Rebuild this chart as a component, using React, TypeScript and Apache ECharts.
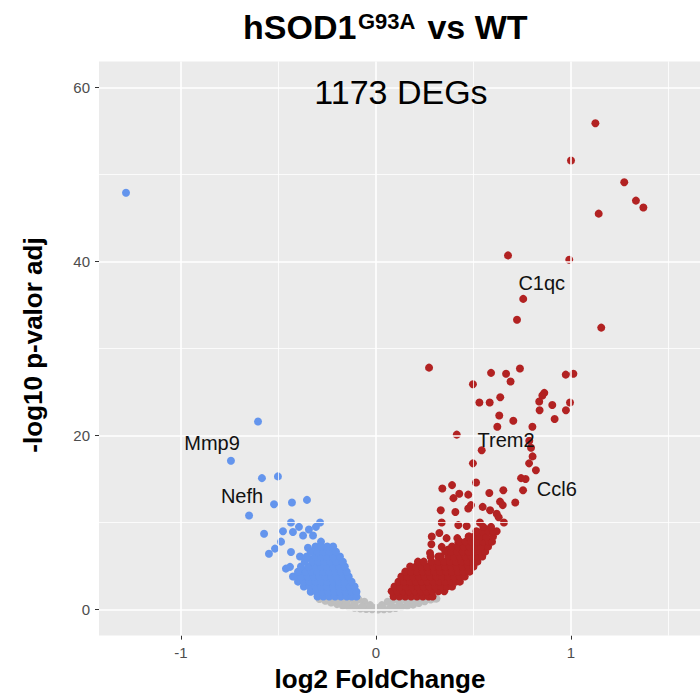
import React, { useEffect, useRef } from "react";
import * as echarts from "echarts";

const FONT = '"Liberation Sans", Arial, Helvetica, sans-serif';

// axis ranges and ticks
const X_MIN = -1.4205;
const X_MAX = 1.6615;
const Y_MIN = -3;
const Y_MAX = 63;
const X_TICKS = [-1, 0, 1];
const X_MINOR = [-0.5, 0.5, 1.5];
const Y_TICKS = [0, 20, 40, 60];
const Y_MINOR = [10, 30, 50];

// texts
const TITLE_MAIN = "hSOD1";
const TITLE_SUP = "G93A";
const TITLE_REST = " vs WT";
const X_TITLE = "log2 FoldChange";
const Y_TITLE = "-log10 p-valor adj";
const DEG_TEXT = "1173 DEGs";
const DEG_POS = [0.128, 59.5];

// gene labels [log2FC, -log10 padj]
const GENE_NAMES = ["C1qc", "Trem2", "Ccl6", "Mmp9", "Nefh"];
const GENE_LABEL_POS = [
  [0.85, 37.5],
  [0.667, 19.5],
  [0.927, 13.8],
  [-0.841, 19.1],
  [-0.687, 13.0],
];

// not significant (grey)
const GRAY_POINTS = [
  [-0.29, 1.2], [-0.26, 1.0], [-0.23, 0.8], [-0.2, 0.62], [-0.17, 0.46], [-0.14, 0.32],
  [-0.11, 0.2], [-0.08, 0.11], [-0.05, 0.05], [-0.02, 0.02], [0.01, 0.01], [0.04, 0.03],
  [0.07, 0.09], [0.1, 0.17], [0.13, 0.28], [0.16, 0.4], [0.19, 0.56], [0.22, 0.75],
  [0.25, 0.95], [0.28, 1.15], [0.31, 1.25],
  [-0.27, 1.28], [-0.24, 1.25], [-0.21, 1.27], [-0.18, 1.22], [-0.15, 1.2], [-0.12, 1.18],
  [-0.09, 1.15], [-0.06, 0.9], [-0.03, 0.5], [0.0, 0.2], [0.03, 0.5], [0.06, 0.9],
  [0.09, 1.15], [0.12, 1.18], [0.15, 1.2], [0.18, 1.25], [0.21, 1.27], [0.24, 1.24],
  [0.27, 1.28], [0.3, 1.28],
  [-0.19, 0.95], [-0.15, 0.78], [-0.11, 0.6], [-0.07, 0.35], [0.08, 0.4], [0.12, 0.65],
  [0.16, 0.82], [0.2, 0.98],
];

// down-regulated (blue), scattered points
const BLUE_POINTS = [
  [-1.282, 47.9], [-0.605, 21.6], [-0.744, 17.1], [-0.585, 15.1], [-0.503, 15.3],
  [-0.651, 10.8], [-0.523, 12.1], [-0.431, 12.3], [-0.354, 12.6], [-0.436, 10.0],
  [-0.395, 9.5], [-0.344, 9.2], [-0.308, 9.5], [-0.287, 10.0], [-0.574, 8.7],
  [-0.477, 9.0], [-0.426, 8.9], [-0.374, 8.5], [-0.323, 8.5], [-0.487, 7.8],
  [-0.518, 7.0], [-0.549, 6.4], [-0.436, 6.6], [-0.39, 6.1], [-0.349, 7.1],
  [-0.282, 7.8], [-0.231, 7.1], [-0.19, 6.0], [-0.462, 4.7], [-0.441, 4.9],
  [-0.426, 3.8], [-0.379, 4.6], [-0.333, 5.8], [-0.251, 5.9], [-0.174, 4.8],
  [-0.159, 3.8],
];

// down-regulated (blue), dense cloud read row by row
const BLUE_MASS_ROWS = [
  { y: 1.5, x: [-0.3, -0.27, -0.24, -0.21, -0.18, -0.15, -0.125, -0.1] },
  { y: 2.05, x: [-0.335, -0.305, -0.275, -0.245, -0.215, -0.185, -0.155, -0.125, -0.1] },
  { y: 2.65, x: [-0.37, -0.34, -0.31, -0.28, -0.25, -0.22, -0.19, -0.16, -0.135, -0.11] },
  { y: 3.2, x: [-0.4, -0.37, -0.34, -0.31, -0.28, -0.25, -0.22, -0.19, -0.16, -0.125] },
  { y: 3.8, x: [-0.415, -0.385, -0.35, -0.32, -0.29, -0.26, -0.23, -0.2, -0.17, -0.14] },
  { y: 4.35, x: [-0.4, -0.36, -0.33, -0.3, -0.27, -0.24, -0.21, -0.18, -0.15] },
  { y: 4.95, x: [-0.385, -0.345, -0.31, -0.28, -0.25, -0.22, -0.19, -0.16] },
  { y: 5.5, x: [-0.365, -0.325, -0.295, -0.265, -0.235, -0.205, -0.17] },
  { y: 6.1, x: [-0.355, -0.31, -0.28, -0.25, -0.22, -0.185] },
  { y: 6.65, x: [-0.335, -0.3, -0.27, -0.24, -0.205] },
  { y: 7.25, x: [-0.31, -0.28, -0.25, -0.22] },
];

// up-regulated (red), scattered points
const RED_POINTS = [
  [1.125, 55.9], [1.0, 51.6], [1.273, 49.1], [1.333, 47.0], [1.371, 46.2], [1.142, 45.5],
  [0.677, 40.7], [0.991, 40.2], [0.755, 35.7], [0.723, 33.3], [1.155, 32.4],
  [0.272, 27.8], [0.59, 27.2], [0.667, 27.1], [0.738, 27.7], [0.497, 25.9], [0.69, 26.2],
  [0.973, 27.0], [1.012, 27.1], [0.863, 24.9], [0.853, 24.6], [0.837, 23.9], [0.995, 23.8],
  [0.974, 22.9], [0.904, 23.5], [0.916, 21.9], [0.53, 23.8], [0.583, 23.8], [0.637, 24.4],
  [0.839, 22.9], [0.632, 22.3], [0.704, 21.7], [0.622, 21.0], [0.802, 21.0], [0.414, 20.1],
  [0.786, 19.4], [0.795, 18.6], [0.542, 18.3], [0.803, 17.6], [0.785, 16.8], [0.497, 16.8],
  [0.82, 16.0], [0.744, 15.1], [0.767, 15.0], [0.754, 13.7], [0.513, 14.6], [0.34, 13.9],
  [0.39, 14.3], [0.427, 13.3], [0.397, 12.8], [0.473, 13.2], [0.581, 13.4], [0.653, 13.7],
  [0.636, 12.4], [0.65, 12.0], [0.714, 12.3], [0.332, 11.4], [0.407, 11.2], [0.473, 11.6],
  [0.487, 12.0], [0.547, 11.8], [0.585, 11.4], [0.619, 11.0], [0.629, 10.6], [0.656, 10.0],
  [0.337, 10.0], [0.422, 9.7], [0.465, 9.6], [0.533, 10.0], [0.568, 9.2], [0.619, 9.0],
  [0.286, 8.4], [0.325, 8.8], [0.362, 8.2], [0.417, 8.2], [0.284, 7.5], [0.337, 7.2],
  [0.422, 7.7], [0.478, 8.4], [0.277, 6.5], [0.32, 6.1], [0.371, 6.9],
];

// up-regulated (red), dense cloud read row by row
const RED_MASS_ROWS = [
  { y: 1.5, x: [0.09, 0.12, 0.15, 0.18, 0.21, 0.24, 0.27, 0.29] },
  { y: 2.1, x: [0.08, 0.11, 0.14, 0.17, 0.2, 0.23, 0.26, 0.29, 0.32, 0.35] },
  { y: 2.65, x: [0.095, 0.125, 0.155, 0.185, 0.215, 0.245, 0.275, 0.305, 0.335, 0.365, 0.39] },
  { y: 3.2, x: [0.115, 0.145, 0.175, 0.205, 0.235, 0.265, 0.295, 0.325, 0.355, 0.385, 0.41, 0.43] },
  { y: 3.8, x: [0.13, 0.16, 0.19, 0.22, 0.25, 0.28, 0.31, 0.34, 0.37, 0.4, 0.43, 0.455] },
  { y: 4.35, x: [0.15, 0.18, 0.21, 0.24, 0.27, 0.3, 0.33, 0.36, 0.39, 0.42, 0.45, 0.48] },
  { y: 4.95, x: [0.175, 0.205, 0.235, 0.265, 0.295, 0.325, 0.355, 0.385, 0.415, 0.445, 0.475, 0.5] },
  { y: 5.5, x: [0.215, 0.245, 0.285, 0.32, 0.35, 0.38, 0.41, 0.44, 0.47, 0.5, 0.52] },
  { y: 6.1, x: [0.28, 0.33, 0.37, 0.4, 0.43, 0.46, 0.49, 0.52, 0.545] },
  { y: 6.65, x: [0.355, 0.385, 0.415, 0.445, 0.475, 0.505, 0.535, 0.56] },
  { y: 7.25, x: [0.39, 0.42, 0.45, 0.48, 0.51, 0.54, 0.575] },
  { y: 7.8, x: [0.43, 0.46, 0.49, 0.52, 0.55, 0.58, 0.595] },
  { y: 8.4, x: [0.475, 0.505, 0.535, 0.565, 0.6] },
  { y: 9.0, x: [0.515, 0.545, 0.575, 0.6] },
  { y: 9.5, x: [0.55, 0.59] },
];

const rowsToPoints = (rows: { y: number; x: number[] }[]) =>
  rows.flatMap((r) => r.x.map((x) => [x, r.y]));

export default function App() {
  const ref = useRef<HTMLDivElement>(null);

  useEffect(() => {
    if (!ref.current) return;
    const chart = echarts.init(ref.current, undefined, { renderer: "svg" });

    const gridTop = 61.4;
    const gridHeight = 574.2;
    const gridLeft = 99;

    const major = { color: "#FFFFFF", width: 1.6, type: "solid" as const };
    const minor = { color: "#FFFFFF", width: 0.8, type: "solid" as const };

    const blue = [...BLUE_POINTS, ...rowsToPoints(BLUE_MASS_ROWS)];
    const red = [...RED_POINTS, ...rowsToPoints(RED_MASS_ROWS)];

    const textStyle = (font: string, align: string) => ({
      font,
      fill: "#000000",
      align,
      textAlign: align,
      verticalAlign: "middle",
      textVerticalAlign: "middle",
    });

    const option: any = {
      animation: false,
      backgroundColor: "#FFFFFF",
      grid: {
        left: gridLeft,
        top: gridTop,
        width: 700 - gridLeft,
        height: gridHeight,
        show: true,
        backgroundColor: "#EBEBEB",
        borderWidth: 0,
      },
      xAxis: {
        type: "value",
        position: "bottom",
        min: X_MIN,
        max: X_MAX,
        splitLine: { show: false },
        axisLine: { show: false, onZero: false },
        axisTick: {
          show: true,
          customValues: X_TICKS,
          length: 4,
          lineStyle: { color: "#333333", width: 1 },
        },
        axisLabel: {
          customValues: X_TICKS,
          color: "#4D4D4D",
          fontSize: 15,
          fontFamily: FONT,
          margin: 9,
        },
      },
      yAxis: {
        type: "value",
        position: "left",
        min: Y_MIN,
        max: Y_MAX,
        splitLine: { show: false },
        axisLine: { show: false, onZero: false },
        axisTick: {
          show: true,
          customValues: Y_TICKS,
          length: 4,
          lineStyle: { color: "#333333", width: 1 },
        },
        axisLabel: {
          customValues: Y_TICKS,
          color: "#4D4D4D",
          fontSize: 15,
          fontFamily: FONT,
          margin: 9,
        },
      },
      series: [
        {
          type: "scatter",
          data: [],
          silent: true,
          z: 1,
          markLine: {
            silent: true,
            symbol: "none",
            animation: false,
            label: { show: false },
            emphasis: { disabled: true },
            data: [
              ...X_MINOR.map((v) => ({ xAxis: v, lineStyle: minor })),
              ...Y_MINOR.map((v) => ({ yAxis: v, lineStyle: minor })),
              ...X_TICKS.map((v) => ({ xAxis: v, lineStyle: major })),
              ...Y_TICKS.map((v) => ({ yAxis: v, lineStyle: major })),
            ],
          },
        },
        {
          type: "scatter",
          data: GRAY_POINTS,
          symbolSize: 8,
          z: 2,
          itemStyle: { color: "#BEBEBE", opacity: 1 },
          silent: true,
        },
        {
          type: "scatter",
          data: blue,
          symbolSize: 8,
          z: 2,
          itemStyle: { color: "#6495ED", opacity: 1 },
          silent: true,
        },
        {
          type: "scatter",
          data: red,
          symbolSize: 8,
          z: 2,
          itemStyle: { color: "#B22222", opacity: 1 },
          silent: true,
        },
        {
          type: "scatter",
          symbolSize: 0,
          z: 5,
          silent: true,
          itemStyle: { color: "#000000", opacity: 1 },
          data: [
            ...GENE_NAMES.map((n, i) => ({
              name: n,
              value: GENE_LABEL_POS[i],
              label: { fontSize: 20 },
            })),
            {
              name: DEG_TEXT,
              value: DEG_POS,
              label: { fontSize: 34, color: "#000000" },
            },
          ],
          label: {
            show: true,
            position: "inside",
            formatter: (p: any) => p.name,
            color: "#111111",
            opacity: 1,
            fontFamily: FONT,
            textBorderWidth: 0,
            textBorderColor: "transparent",
            textShadowBlur: 0,
          },
        },
      ],
      graphic: [
        {
          type: "text",
          x: 243,
          y: 27.2,
          style: { text: TITLE_MAIN, ...textStyle(`bold 34px ${FONT}`, "left") },
        },
        {
          type: "text",
          x: 358,
          y: 21,
          style: { text: TITLE_SUP, ...textStyle(`bold 22px ${FONT}`, "left") },
        },
        {
          type: "text",
          x: 418,
          y: 27.2,
          style: { text: TITLE_REST, ...textStyle(`bold 34px ${FONT}`, "left") },
        },
        {
          type: "text",
          x: 380,
          y: 679,
          style: { text: X_TITLE, ...textStyle(`bold 26px ${FONT}`, "center") },
        },
        {
          type: "text",
          x: 33,
          y: 345,
          rotation: Math.PI / 2,
          style: { text: Y_TITLE, ...textStyle(`bold 26px ${FONT}`, "center") },
        },
      ],
    };

    chart.setOption(option);
    return () => chart.dispose();
  }, []);

  return (
    <div
      ref={ref}
      style={{ position: "fixed", left: 0, top: 0, width: 700, height: 696 }}
    />
  );
}
